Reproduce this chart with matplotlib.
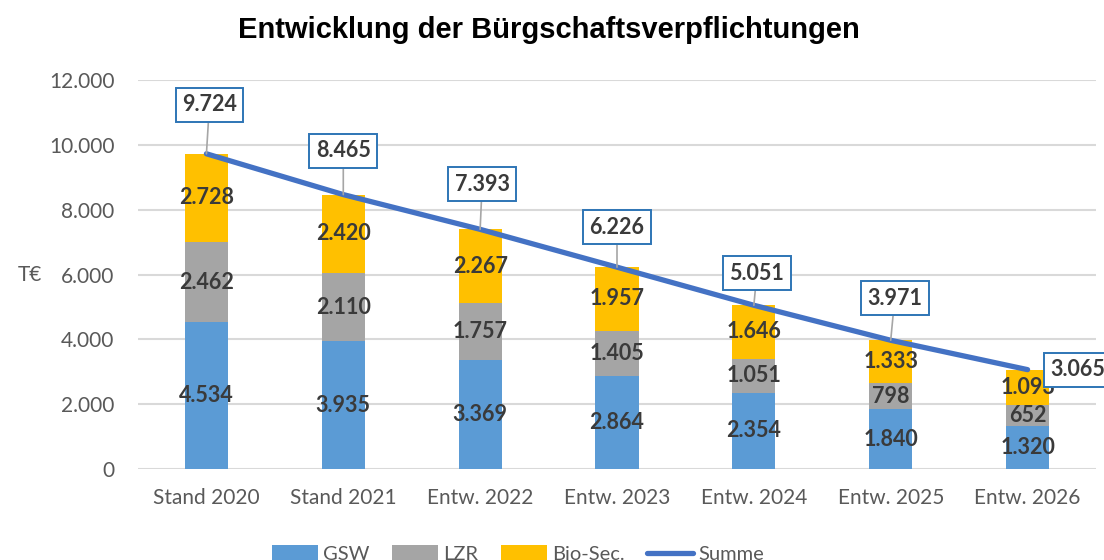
import matplotlib.pyplot as plt
import numpy as np
from matplotlib.ticker import FuncFormatter

plt.rcParams['font.family'] = ['Lato', 'DejaVu Sans']

kategorien = ['Stand 2020', 'Stand 2021', 'Entw. 2022', 'Entw. 2023',
              'Entw. 2024', 'Entw. 2025', 'Entw. 2026']
gsw = [4534, 3935, 3369, 2864, 2354, 1840, 1320]
lzr = [2462, 2110, 1757, 1405, 1051, 798, 652]
bio_sec = [2728, 2420, 2267, 1957, 1646, 1333, 1093]
summe = [9724, 8465, 7393, 6226, 5051, 3971, 3065]

FARBE_GSW = '#5B9BD5'
FARBE_LZR = '#A5A5A5'
FARBE_BIO = '#FFC000'
FARBE_SUMME = '#4472C4'
FARBE_TEXT = '#3A3A3A'
FARBE_ACHSE = '#595959'


def tausender(wert, pos=None):
    return f'{int(round(wert)):,}'.replace(',', '.')


fig = plt.figure(figsize=(11.04, 5.6), dpi=100)
ax = fig.add_axes([138 / 1104, 1 - 469 / 560, (1096 - 138) / 1104, (469 - 80) / 560])

x = np.arange(len(kategorien))
breite = 0.315
unten_lzr = np.array(gsw)
unten_bio = unten_lzr + np.array(lzr)

b1 = ax.bar(x, gsw, breite, color=FARBE_GSW, label='GSW', zorder=2)
b2 = ax.bar(x, lzr, breite, bottom=unten_lzr, color=FARBE_LZR, label='LZR', zorder=2)
b3 = ax.bar(x, bio_sec, breite, bottom=unten_bio, color=FARBE_BIO, label='Bio-Sec.', zorder=2)
linie, = ax.plot(x, summe, color=FARBE_SUMME, linewidth=3.8, solid_capstyle='round',
                 label='Summe', zorder=3)

# Werte in den Segmenten
for serie, unten in [(gsw, np.zeros(len(x))), (lzr, unten_lzr), (bio_sec, unten_bio)]:
    for i, wert in enumerate(serie):
        ax.text(x[i], unten[i] + wert / 2, tausender(wert), ha='center', va='center',
                fontsize=15.5, fontweight='bold', color=FARBE_TEXT, zorder=4)

# Summen als Beschriftungsfelder
versatz = [(3, 49), (0, 44), (2, 45), (0, 40), (3, 32), (4, 42), (50, 0)]
for i, wert in enumerate(summe):
    dx, dy = versatz[i]
    pfeil = dict(arrowstyle='-', color='#A6A6A6', lw=1.2, shrinkA=0, shrinkB=0) if dy > 0 else None
    ax.annotate(tausender(wert), xy=(x[i], wert), xytext=(dx, dy), textcoords='offset pixels',
                ha='center', va='center', fontsize=15.5, fontweight='bold', color=FARBE_TEXT,
                bbox=dict(boxstyle='square,pad=0.3', fc='white', ec='#2E75B6', lw=1.4),
                arrowprops=pfeil, zorder=5, annotation_clip=False)

ax.set_xlim(-0.5, 6.5)
ax.set_ylim(0, 12000)
ax.set_yticks(np.arange(0, 12001, 2000))
ax.yaxis.set_major_formatter(FuncFormatter(tausender))
ax.set_xticks(x)
ax.set_xticklabels(kategorien)
ax.tick_params(axis='both', length=0, labelsize=15, colors=FARBE_ACHSE)
ax.tick_params(axis='y', pad=17)
ax.tick_params(axis='x', pad=14)
ax.grid(axis='y', color='#D9D9D9', linewidth=1.5, zorder=0)
ax.set_axisbelow(True)
for seite in ax.spines.values():
    seite.set_visible(False)

fig.text(30 / 1104, 1 - 275 / 560, 'T€', ha='center', va='center', fontsize=15, color=FARBE_ACHSE)
fig.text(549 / 1104, 1 - 30 / 560, 'Entwicklung der Bürgschaftsverpflichtungen',
         ha='center', va='center', fontsize=21, fontweight='bold', family='Liberation Sans')

fig.legend(handles=[b1, b2, b3, linie], loc='center', bbox_to_anchor=(518 / 1104, 1 - 554 / 560),
           ncol=4, frameon=False, fontsize=14.5, labelcolor=FARBE_ACHSE, handlelength=2.3,
           handleheight=0.9, handletextpad=0.25, columnspacing=1.1)

fig.savefig('out.png', dpi=100)
